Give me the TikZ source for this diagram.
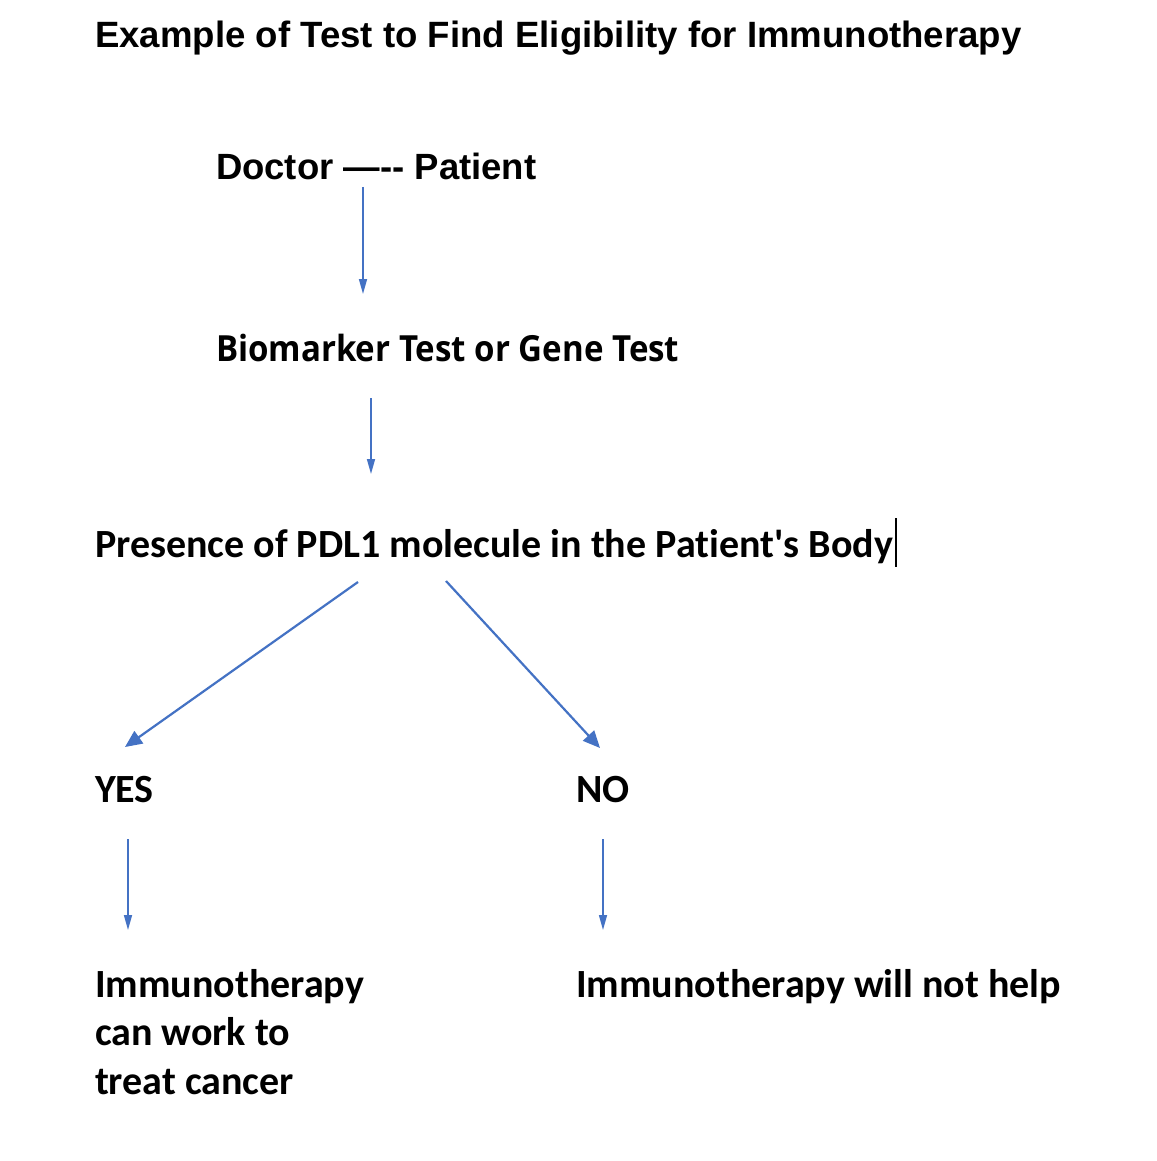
\documentclass[tikz,border=0pt]{standalone}
\usepackage{fontspec}
\usetikzlibrary{arrows.meta}
\setmainfont{Liberation Sans}
\newfontfamily\arialb{Liberation Sans}[BoldFont=*-Bold]
\newfontfamily\calib{Carlito}[Ligatures={NoCommon}]
\newfontfamily\opensans{Open Sans}
\definecolor{arrowblue}{HTML}{4472C4}
\begin{document}
\begin{tikzpicture}[x=1pt,y=-1pt,
  txt/.style={anchor=base west,inner sep=0pt,outer sep=0pt},
  bigarrow/.style={draw=arrowblue,line width=2.2pt,-{Triangle[length=17pt,width=15pt]}},
  smallarrow/.style={draw=arrowblue,line width=1.5pt,-{Triangle[length=15pt,width=8pt]}}]
\useasboundingbox[fill=white] (0,0) rectangle (1156,1161);
\node[txt] (title) at (95,48) {\fontsize{36.6}{42}\arialb\bfseries Example of Test to Find Eligibility for Immunotherapy};
\node[txt] (doc) at (216,179) {\fontsize{36.5}{42}\arialb\bfseries Doctor —-- Patient};
\node[txt] (bio) at (216,361) {\scalebox{0.918}[1]{\fontsize{36}{42}\opensans\bfseries Biomarker Test or Gene Test}};
\node[txt] (pres) at (95,557) {\fontsize{40}{46}\calib\bfseries Presence of PDL1 molecule in the Patient's Body};
\node[txt] (yes) at (95,802) {\fontsize{40}{46}\calib\bfseries YES};
\node[txt] (no) at (576,802) {\fontsize{40}{46}\calib\bfseries NO};
\node[txt] (imm1) at (95,997) {\fontsize{40}{46}\calib\bfseries Immunotherapy};
\node[txt] (imm2) at (95,1045) {\fontsize{40}{46}\calib\bfseries can work to};
\node[txt] (imm3) at (95,1094) {\fontsize{40}{46}\calib\bfseries treat cancer};
\node[txt] (nohelp) at (576,997) {\fontsize{40}{46}\calib\bfseries Immunotherapy will not help};
\coordinate (cur1) at (896,518);
\coordinate (cur2) at (896,567);
\draw[line width=2.6pt] (cur1) -- (cur2);
\coordinate (a1s) at (363,187); \coordinate (a1e) at (363,294);
\coordinate (a2s) at (371,398); \coordinate (a2e) at (371,474);
\coordinate (a3s) at (358,582); \coordinate (a3e) at (125,747);
\coordinate (a4s) at (446,581); \coordinate (a4e) at (600,748);
\coordinate (a5s) at (128,839); \coordinate (a5e) at (128,930);
\coordinate (a6s) at (603,839); \coordinate (a6e) at (603,930);
\draw[smallarrow] (a1s) -- (a1e);
\draw[smallarrow] (a2s) -- (a2e);
\draw[bigarrow] (a3s) -- (a3e);
\draw[bigarrow] (a4s) -- (a4e);
\draw[smallarrow] (a5s) -- (a5e);
\draw[smallarrow] (a6s) -- (a6e);
\end{tikzpicture}
\end{document}
